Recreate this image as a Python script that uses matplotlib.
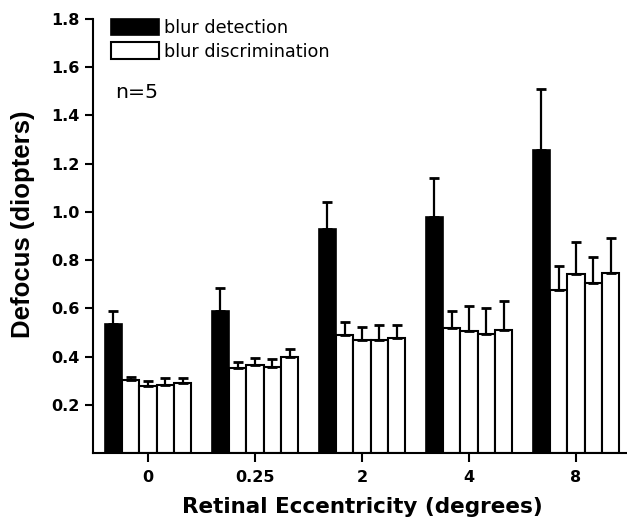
import numpy as np
import matplotlib
matplotlib.use("Agg")
import matplotlib.pyplot as plt
from matplotlib.patches import Patch

plt.rcParams['font.family'] = ['DejaVu Sans']

categories = ["0", "0.25", "2", "4", "8"]

# blur detection (black) means and upper error-bar tops
detect_mean = [0.535, 0.590, 0.928, 0.977, 1.256]
detect_top = [0.589, 0.685, 1.039, 1.139, 1.509]

# blur discrimination (white) - four bars per group
discr_mean = [
    [0.303, 0.278, 0.282, 0.291],
    [0.351, 0.365, 0.355, 0.397],
    [0.489, 0.468, 0.468, 0.479],
    [0.520, 0.506, 0.492, 0.510],
    [0.676, 0.741, 0.703, 0.745],
]
discr_top = [
    [0.316, 0.300, 0.312, 0.312],
    [0.379, 0.392, 0.388, 0.432],
    [0.544, 0.524, 0.531, 0.532],
    [0.590, 0.609, 0.600, 0.631],
    [0.775, 0.876, 0.811, 0.890],
]

yticks = [0.2, 0.4, 0.6, 0.8, 1.0, 1.2, 1.4, 1.6, 1.8]

fig = plt.figure(figsize=(6.27, 5.19), dpi=100)
ax = fig.add_axes([93 / 627, 1 - 453 / 519, 1 - 93 / 627, 434 / 519])

x = np.arange(len(categories))
w = 0.162
offsets = np.array([-2, -1, 0, 1, 2]) * w

ekw = dict(ecolor='black', elinewidth=1.6, capsize=3.8, capthick=2)

dm = np.array(detect_mean)
dt = np.array(detect_top)
ax.bar(x + offsets[0], dm, w, color='black', edgecolor='black', linewidth=1.2,
       yerr=[np.zeros_like(dm), dt - dm], error_kw=ekw, zorder=2)

wm = np.array(discr_mean)
wt = np.array(discr_top)
for j in range(4):
    ax.bar(x + offsets[j + 1], wm[:, j], w, color='white', edgecolor='black', linewidth=1.5,
           yerr=[np.zeros(len(x)), wt[:, j] - wm[:, j]], error_kw=ekw, zorder=2)

ax.set_ylim(0, 1.8)
ax.set_xlim(-0.514, 4.477)
ax.set_yticks(yticks)
ax.set_yticklabels([f"{v:.1f}" for v in yticks])
ax.set_xticks(x)
ax.set_xticklabels(categories)
for lab in ax.get_xticklabels() + ax.get_yticklabels():
    lab.set_fontweight('bold')
    lab.set_fontsize(11.5)
ax.tick_params(axis='x', direction='out', width=1.5, length=6.5, pad=5.5)
ax.tick_params(axis='y', direction='out', width=1.5, length=6, pad=3.5)
ax.spines['top'].set_visible(False)
ax.spines['right'].set_visible(False)
ax.spines['left'].set_linewidth(1.5)
ax.spines['bottom'].set_linewidth(1.5)

ax.set_xlabel("Retinal Eccentricity (degrees)", fontsize=15.5, fontweight='bold', va='baseline')
ax.xaxis.set_label_coords(0.504, -0.138)
ax.set_ylabel("Defocus (diopters)", fontsize=18.5, fontweight='bold',
              family=['Liberation Sans', 'DejaVu Sans'], va='center')
ax.yaxis.set_label_coords(-0.131, 0.528)

handles = [Patch(facecolor='black', edgecolor='black', linewidth=1.2),
           Patch(facecolor='white', edgecolor='black', linewidth=1.5)]
ax.legend(handles, ["blur detection", "blur discrimination"], loc='upper left',
          bbox_to_anchor=(0.0337, 1.0), frameon=False, fontsize=12.7,
          handlelength=2.73, handleheight=1.05, handletextpad=0.28,
          borderpad=0, borderaxespad=0, labelspacing=0.3)

ax.text(0.0412, 0.8306, "n=5", transform=ax.transAxes, fontsize=14.7, va='center', ha='left')

fig.savefig("out.png", dpi=100)
